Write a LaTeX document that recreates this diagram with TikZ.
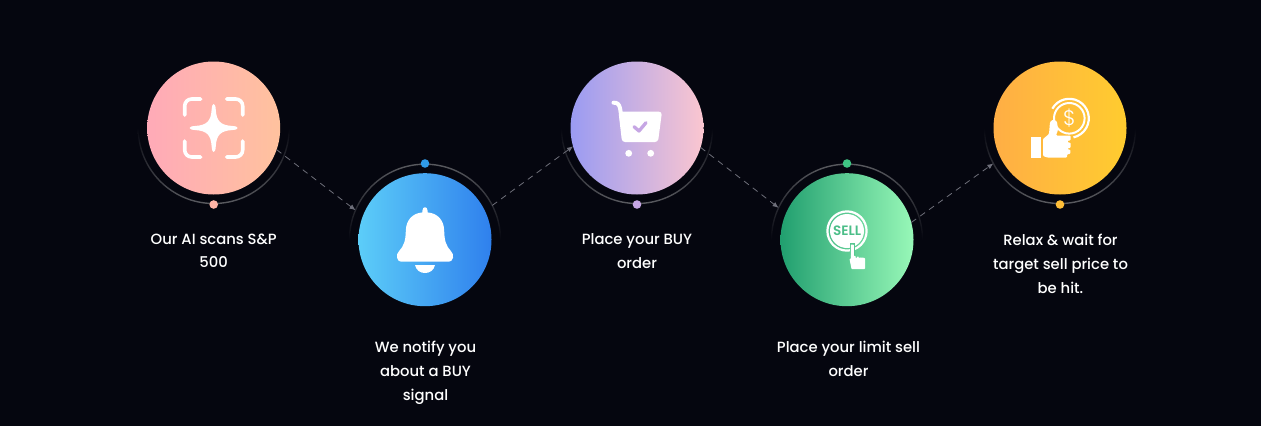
\documentclass[tikz,border=0pt]{standalone}
\usepackage{fontspec}
\setmainfont{Poppins}[UprightFont=* Medium,BoldFont=* SemiBold]
\newfontfamily\thinfont{Poppins Light}
\usetikzlibrary{arrows.meta}
\definecolor{bgc}{HTML}{05060F}
\definecolor{ringc}{HTML}{5A5B60}
\definecolor{linkc}{HTML}{6E6F7A}
\definecolor{pinkA}{HTML}{FFAAB8}\definecolor{pinkB}{HTML}{FFC29E}
\definecolor{blueA}{HTML}{5CCDF8}\definecolor{blueB}{HTML}{2F80ED}
\definecolor{purpA}{HTML}{9A9BF2}\definecolor{purpB}{HTML}{FBC6D0}
\definecolor{grnA}{HTML}{219F6F}\definecolor{grnB}{HTML}{98F8B8}
\definecolor{yelA}{HTML}{FFAE45}\definecolor{yelB}{HTML}{FFCC2F}
\definecolor{dotA}{HTML}{FFB4A6}\definecolor{dotB}{HTML}{2F9BE8}
\definecolor{dotC}{HTML}{C6A6E4}\definecolor{dotD}{HTML}{3FC583}
\definecolor{dotE}{HTML}{FFBE38}
\tikzset{
  x=1pt,y=-1pt,
  disc/.style={circle,minimum size=133pt,inner sep=0pt,outer sep=0pt,draw=none},
  ringbox/.style={circle,minimum size=151pt,inner sep=0pt,outer sep=0pt,draw=none},
  dot/.style={circle,minimum size=8.6pt,inner sep=0pt,outer sep=0pt,fill=#1},
  link/.style={draw=linkc,line width=0.8pt,dash pattern=on 6pt off 5pt,-{Latex[length=6pt,width=5pt]}},
  caption/.style={text=white,font=\fontsize{14.8}{23.7}\selectfont,align=center,anchor=north,inner sep=0pt},
  ringlow/.style={even odd rule,top color=bgc,bottom color=ringc,middle color=bgc},
  ringhigh/.style={even odd rule,top color=ringc,bottom color=bgc,middle color=bgc},
  icon/.style={fill=white,draw=none},
  iconline/.style={draw=white,line width=3.6pt,line cap=round,fill=none},
}
\newcommand{\ringshape}[3]{\shade[#3] (#1,#2) circle[radius=76.2] (#1,#2) circle[radius=74.8];}
\begin{document}
\begin{tikzpicture}
\useasboundingbox (0,0) rectangle (1261,426);
\fill[bgc] (0,0) rectangle (1261,426);
% rings
\ringshape{213.7}{128}{ringlow}
\ringshape{425}{239.7}{ringhigh}
\ringshape{637}{128}{ringlow}
\ringshape{847}{239.7}{ringhigh}
\ringshape{1060}{128}{ringlow}
% discs
\node[disc,left color=pinkA,right color=pinkB] (d1) at (213.7,128) {};
\node[disc,left color=blueA,right color=blueB] (d2) at (425,239.7) {};
\node[disc,left color=purpA,right color=purpB] (d3) at (637,128) {};
\node[disc,left color=grnA,right color=grnB] (d4) at (847,239.7) {};
\node[disc,left color=yelA,right color=yelB] (d5) at (1060,128) {};
% invisible ring boxes used as connector ends
\node[ringbox] (r2) at (425,239.7) {};
\node[ringbox] (r3) at (637,128) {};
\node[ringbox] (r4) at (847,239.7) {};
\node[ringbox] (r5) at (1060,128) {};
% dots
\node[dot=dotA] (p1) at (213.7,204.5) {};
\node[dot=dotB] (p2) at (425,163.5) {};
\node[dot=dotC] (p3) at (637,204.5) {};
\node[dot=dotD] (p4) at (847,163.5) {};
\node[dot=dotE] (p5) at (1060,204.5) {};
% connectors
\draw[link] (d1.-19) -- (r2.157);
\draw[link] (r2.27) -- (d3.196);
\draw[link] (d3.-17.5) -- (r4.155);
\draw[link] (d4.15.6) -- (r5.208);
% captions
\node[caption] (t1) at (213.7,233.5) {Our AI scans S\&P\\500};
\node[caption] (t2) at (425.5,341) {We notify you\\about a BUY\\signal};
\node[caption] (t3) at (637,233.5) {Place your BUY\\order};
\node[caption] (t4) at (848.5,341) {Place your limit sell\\order};
\node[caption] (t5) at (1060.5,234) {Relax \& wait for\\target sell price to\\be hit.};
% icon 1
\begin{scope}[shift={(213.7,128)}]
\draw[iconline,rounded corners=7pt] (-29,-13) -- (-29,-29) -- (-13,-29);
\draw[iconline,rounded corners=7pt] (13,-29) -- (29,-29) -- (29,-13);
\draw[iconline,rounded corners=7pt] (29,13) -- (29,29) -- (13,29);
\draw[iconline,rounded corners=7pt] (-13,29) -- (-29,29) -- (-29,13);
\path[icon] (0,-24) .. controls (1.3,-24) and (1.8,-22) .. (2.1,-18) .. controls (2.8,-7) and (7,-2.8) .. (18,-2.1)
 .. controls (22,-1.8) and (24,-1.3) .. (24,0) .. controls (24,1.3) and (22,1.8) .. (18,2.1)
 .. controls (7,2.8) and (2.8,7) .. (2.1,18) .. controls (1.8,22) and (1.3,24) .. (0,24)
 .. controls (-1.3,24) and (-1.8,22) .. (-2.1,18) .. controls (-2.8,7) and (-7,2.8) .. (-18,2.1)
 .. controls (-22,1.8) and (-24,1.3) .. (-24,0) .. controls (-24,-1.3) and (-22,-1.8) .. (-18,-2.1)
 .. controls (-7,-2.8) and (-2.8,-7) .. (-2.1,-18) .. controls (-1.8,-22) and (-1.3,-24) .. (0,-24) -- cycle;
\end{scope}
% icon 2: bell
\begin{scope}[shift={(425,239.7)}]
\path[icon] (-2.6,-29) .. controls (-2.6,-33.6) and (2.6,-33.6) .. (2.6,-29) -- (2.6,-27.3)
 .. controls (13,-26.5) and (19,-19) .. (19.2,-9) .. controls (19.4,1) and (21,6) .. (26,11.5)
 .. controls (30,15) and (28,22) .. (24,22) -- (-24,22) .. controls (-28,22) and (-30,15) .. (-26,11.5)
 .. controls (-21,6) and (-19.4,1) .. (-19.2,-9) .. controls (-19,-19) and (-13,-26.5) .. (-2.6,-27.3) -- cycle;
\path[icon] (-10,25.3) -- (10,25.3) .. controls (8,36) and (-8,36) .. (-10,25.3) -- cycle;
\end{scope}
% icon 3: cart
\begin{scope}[shift={(637,128)}]
\draw[iconline,line width=4pt] (-23.5,-25.3) .. controls (-20,-25.6) and (-18,-24) .. (-17,-20) -- (-14,-1);
\path[icon,rounded corners=3pt] (-18.5,-16.3) -- (25,-16.3) -- (21,14) -- (-15,14) -- cycle;
\fill[white] (-8.3,25.3) circle[radius=3.4] (13.7,25.3) circle[radius=3.4];
\draw[draw=dotC,line width=3.3pt,line cap=round,line join=round] (-3,-1.3) -- (2,3) -- (9,-5.3);
\end{scope}
% icon 4: sell
\begin{scope}[shift={(847,231)}]
\draw[white,line width=2.2pt] (0,0) circle[radius=19.6];
\fill[white] (0,0) circle[radius=17];
\node[text=grnA!65!grnB,font=\fontsize{13.6}{14}\bfseries\selectfont,inner sep=0pt] (selltxt) at (0,0) {SELL};
\draw[grnA!55!grnB,line width=5pt] (5.3,12) -- (5.3,24);
\path[icon,rounded corners=0.6pt] (3.8,13.5) -- (6.8,13.5) -- (6.8,25) -- (8.6,25) -- (8.6,27) -- (10,27) -- (10,25.5) -- (11.6,25.5) -- (11.6,27) -- (13,27) -- (13,26.5) -- (14.8,26.5)
 -- (18,27) -- (18,38) -- (4.5,38) -- (2.5,28) -- (3.8,28) -- cycle;
\end{scope}
% icon 5: money
\begin{scope}[shift={(1060,128)}]
\draw[white,line width=2pt] (9.3,-9.7) circle[radius=15.3];
\draw[white,line width=2.2pt] (9.3,-9.7) ++(-150.5:19.5) arc[start angle=-150.5,end angle=77.6,radius=19.5];
\node[text=white,font=\thinfont\fontsize{21}{21}\selectfont,inner sep=0pt] (dollar) at (9.3,-9.7) {\$};
\fill[white] (-29,8.7) rectangle (-18.7,29.7);
\path[icon,rounded corners=1pt] (-17,11) -- (-11,6) -- (-10,-6) -- (-7,-8.5) -- (-3,-6.5) -- (-2,2) -- (-4,7.5) -- (10.7,7.5) -- (10.7,12.5) -- (7.5,12.5) -- (7.5,14.5) -- (10.7,14.5) -- (10.7,20) -- (7.5,20) -- (7.5,21.5) -- (10.3,21.5) -- (10.3,26) -- (7,26) -- (7,29.7) -- (-12,29.7) -- (-17,28) -- cycle;
\end{scope}
\end{tikzpicture}
\end{document}
